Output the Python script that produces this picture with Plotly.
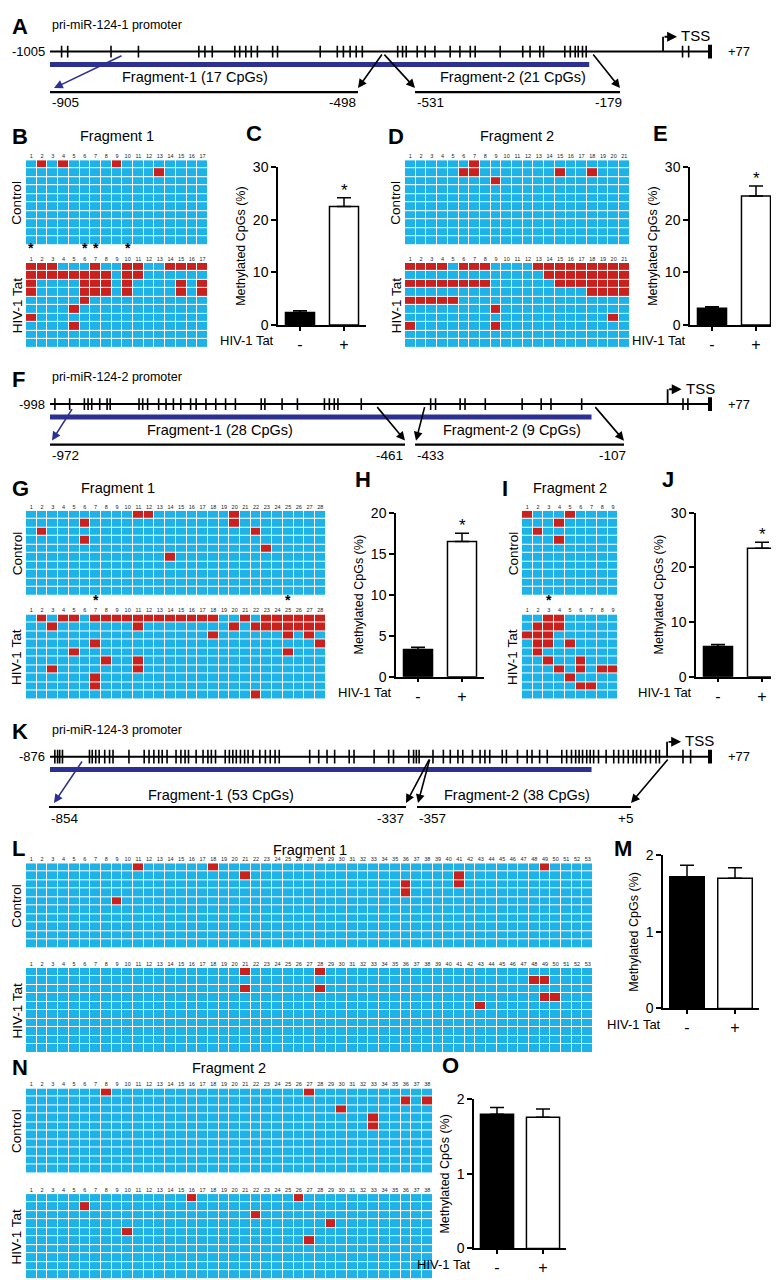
import plotly.graph_objects as go

W, H = 779, 1280
FONT = "Liberation Sans"
BLUE, RED, NAVY = "#1db3e9", "#c9211e", "#2c3090"
CW, CH = 10.7, 8.6

# ---------------- data ----------------
# CpG sites (bp relative to TSS) drawn on each promoter
a_cpg = [-986, -976, -905, -860, -761, -751, -739, -702, -694, -684, -675, -665, -640, -632,
         -562, -534, -524, -513, -503, -493, -435, -427, -421, -403, -390, -374, -349, -333,
         -316, -308, -267, -230, -218, -202, -196, -161, -152, -144, -139, -132, -126, 32, 42]
f_cpg = [-990, -966, -942, -936, -930, -917, -905, -900, -853, -847, -839, -821, -809, -797,
         -785, -769, -760, -744, -728, -712, -696, -654, -648, -620, -595, -551, -543, -535,
         -529, -491, -378, -370, -330, -322, -289, -229, -198, -182, -132, 33, 41]
k_cpg = [-869, -865, -862, -858, -819, -815, -810, -805, -797, -790, -785, -762, -740, -733,
         -726, -719, -714, -707, -694, -687, -681, -676, -665, -655, -648, -643, -637, -623,
         -617, -612, -607, -601, -595, -590, -583, -573, -565, -558, -551, -545, -501, -488,
         -476, -465, -444, -437, -408, -387, -380, -358, -351, -347, -343, -323, -308, -298,
         -287, -280, -266, -255, -248, -241, -223, -217, -201, -187, -180, -169, -158, -137,
         -130, -123, -117, -112, -107, -101, -96, -91, -84, -73, -62, -55, -48, -41, -34, -29,
         -23, -16, -9, -1, 4, 38, 49]

# methylated CpG columns of each sequenced clone (one list per row)
b_control = [[2, 4, 9], [13], [], [], [], [], [], [], [], []]
b_tat = [[1, 2, 3, 7, 10, 11, 14, 15, 16, 17], [1, 2, 3, 4, 5, 6, 7, 8, 10, 11],
         [1, 6, 7, 8, 10, 15, 17], [1, 6, 7, 8, 10, 15, 17], [6], [5], [1], [5], [], []]
b_stars = [1, 6, 7, 10]
d_control = [[7], [6, 7, 15, 18], [9], [], [], [], [], [], [], []]
d_tat = [[1, 2, 3, 4, 6, 7, 8, 13, 14, 15, 16, 17, 18, 19, 20, 21],
         [14, 15, 16, 17, 18, 19, 20, 21],
         [1, 2, 3, 4, 5, 6, 7, 8, 15, 16, 17, 18, 19, 20, 21],
         [18, 19, 20, 21], [1, 2, 3, 4, 5], [9], [20], [1, 9], [], []]
g_control = [[11, 12, 20], [6, 20], [2, 22], [6], [23], [14], [], [], [], []]
g_tat = [[2, 4, 5, 7, 8, 9, 10, 11, 12, 13, 14, 15, 16, 17, 18, 21, 23, 24, 25, 26, 27, 28],
         [3, 11, 20, 22, 23, 24, 25, 26, 27, 28], [18, 25, 27], [7, 28], [5, 25], [8, 11],
         [3, 11], [7], [7], [22]]
g_stars = [7, 25]
i_control = [[1, 5], [4], [2], [4], [], [], [], [], [], []]
i_tat = [[3, 4], [2, 3, 4], [1, 2, 3], [2, 3, 5], [2], [3, 6], [4, 6, 8, 9], [5], [6, 7], []]
i_stars = [3]
l_control = [[11, 18, 49], [21, 41], [36, 41], [36], [9], [], [], [], [], []]
l_tat = [[21, 28], [48, 49], [21, 28], [49, 50], [43], [], [], [], [], []]
n_control = [[8, 27], [36, 38], [30], [33], [33], [], [], [], [], []]
n_tat = [[16, 26], [6], [22], [29], [10], [27], [], [], [], []]

# % methylated CpGs, mean and SEM, control (-) vs HIV-1 Tat (+)
tat_groups = ["-", "+"]
c_mean, c_sem = [2.4, 22.5], [0.3, 1.7]
e_mean, e_sem = [3.2, 24.5], [0.3, 1.9]
h_mean, h_sem = [3.3, 16.5], [0.3, 1.0]
j_mean, j_sem = [5.5, 23.5], [0.4, 1.1]
m_mean, m_sem = [1.72, 1.70], [0.15, 0.14]
o_mean, o_sem = [1.80, 1.76], [0.09, 0.11]

# ---------------- helpers ----------------
fig = go.Figure()
layout = {}
annotations = []
shapes = []
count = [0]


def add_axes(x0, x1, y0, y1, xa, ya):
    count[0] += 1
    s = "" if count[0] == 1 else str(count[0])
    layout["xaxis" + s] = dict(xa, domain=[x0 / W, x1 / W], anchor="y" + s, fixedrange=True)
    layout["yaxis" + s] = dict(ya, domain=[1 - y1 / H, 1 - y0 / H], anchor="x" + s, fixedrange=True)
    return "x" + s, "y" + s


def text(x, y, s, size=13, xanchor="center", yanchor="middle", angle=0, bold=False):
    if bold:
        s = "<b>" + s + "</b>"
    annotations.append(dict(x=x / W, y=1 - y / H, xref="paper", yref="paper", text=s,
                            showarrow=False, xanchor=xanchor, yanchor=yanchor, textangle=angle,
                            font=dict(family=FONT, size=size, color="black")))


def arrow(tx, ty, hx, hy, color="black"):
    annotations.append(dict(x=hx / W, y=1 - hy / H, xref="paper", yref="paper", text="",
                            ax=tx - hx, ay=ty - hy, axref="pixel", ayref="pixel",
                            showarrow=True, arrowhead=2, arrowsize=1.1, arrowwidth=1.6,
                            arrowcolor=color, standoff=0))


def hline(x0, x1, y, width=2.2, color="black"):
    shapes.append(dict(type="line", xref="paper", yref="paper", x0=x0 / W, x1=x1 / W,
                       y0=1 - y / H, y1=1 - y / H, line=dict(color=color, width=width)))


X0, X1 = 42, 702  # promoter line ends in the page


def diagram(letter, title, start, cpgs, blue_end, tss, y_line, frag, names, ends,
            blue_arrow, black_arrows, tick=6, y_frag=(26, 41, 52)):
    bpp = (77 - start) / (X1 - X0)
    xr, yr = add_axes(X0 - 10, X1 + 10, y_line - 22, y_line + 22,
                      dict(range=[start - 10 * bpp, 77 + 10 * bpp], visible=False),
                      dict(range=[-22, 22], visible=False))
    fig.add_trace(go.Scatter(x=[start, 77], y=[0, 0], mode="lines",
                             line=dict(color="black", width=2), xaxis=xr, yaxis=yr, hoverinfo="skip"))
    xs, ys = [], []
    for p in cpgs:
        xs += [p, p, None]
        ys += [-tick, tick, None]
    fig.add_trace(go.Scatter(x=xs, y=ys, mode="lines", line=dict(color="black", width=1.6),
                             xaxis=xr, yaxis=yr, hoverinfo="skip"))
    fig.add_trace(go.Scatter(x=[77, 77], y=[-7, 7], mode="lines", line=dict(color="black", width=4),
                             xaxis=xr, yaxis=yr, hoverinfo="skip"))
    fig.add_trace(go.Scatter(x=[start, blue_end], y=[-13, -13], mode="lines",
                             line=dict(color=NAVY, width=5), xaxis=xr, yaxis=yr, hoverinfo="skip"))
    fig.add_trace(go.Scatter(x=[tss, tss], y=[0, 15], mode="lines", line=dict(color="black", width=1.8),
                             xaxis=xr, yaxis=yr, hoverinfo="skip"))
    annotations.append(dict(x=tss + 14 * bpp, y=15, xref=xr, yref=yr, ax=tss, ay=15, axref=xr, ayref=yr,
                            text="", showarrow=True, arrowhead=2, arrowsize=1.1, arrowwidth=1.8,
                            arrowcolor="black", standoff=0))
    tss_x = X0 + (tss - start) / bpp
    text(tss_x + 16, y_line - 16, "TSS", 15, "left")
    text(X0 - 3, y_line, str(start), 13, "right")
    text(X1 + 16, y_line, "+77", 13, "left")
    text(2, y_line - 25, letter, 22, "left", bold=True)
    text(42, y_line - 27, title, 12.5, "left")
    yl = y_line + y_frag[0]
    yf = y_line + y_frag[1]
    yp = y_line + y_frag[2]
    hline(frag[0], frag[1], yf)
    hline(frag[2], frag[3], yf)
    text(names[1], yl, names[0], 14.5)
    text(names[3], yl, names[2], 14.5)
    text(frag[0], yp, ends[0], 13.5, "left")
    text(frag[1], yp, ends[1], 13.5, "right")
    text(frag[2], yp, ends[2], 13.5, "left")
    text(frag[3] + 4, yp, ends[3], 13.5, "right")
    arrow(blue_arrow[0], y_line + 4, blue_arrow[1], yf - 4, NAVY)
    for tx, hx in black_arrows:
        arrow(tx, y_line + 2, hx, yf - 4)


def grid(rows, ncol, x0, y0, stars=()):
    nrow = len(rows)
    z = [[1 if c in r else 0 for c in range(1, ncol + 1)] for r in rows]
    cols = list(range(1, ncol + 1))
    xr, yr = add_axes(x0, x0 + ncol * CW, y0, y0 + nrow * CH,
                      dict(range=[0.5, ncol + 0.5], side="top", tickvals=cols,
                           ticktext=[str(c) for c in cols], ticks="", showgrid=False,
                           zeroline=False, showline=False,
                           tickfont=dict(family=FONT, size=5.5, color="#222")),
                      dict(range=[nrow + 0.5, 0.5], visible=False))
    fig.add_trace(go.Heatmap(z=z, x=cols, y=list(range(1, nrow + 1)), zmin=0, zmax=1,
                             colorscale=[[0, BLUE], [1, RED]], showscale=False, xgap=1, ygap=1,
                             xaxis=xr, yaxis=yr, hoverinfo="skip"))
    for c in stars:
        text(x0 + (c - 0.5) * CW, y0 - 15, "<b>*</b>", 14)


def group_label(x, y0, name):
    text(x, y0 + 5 * CH, name, 13.5, angle=-90)


def bars(mean, sem, x0, x1, y0, y1, ymax, dtick, bw, letter, lx, ly=None):
    xr, yr = add_axes(x0, x1, y0, y1,
                      dict(type="category", range=[-0.5, 1.5], showline=True, linecolor="black",
                           linewidth=1.5, ticks="outside", ticklen=4, tickwidth=1.5,
                           tickcolor="black", showgrid=False, zeroline=False,
                           tickfont=dict(family=FONT, size=16, color="black")),
                      dict(range=[0, ymax], dtick=dtick, showline=True, linecolor="black",
                           linewidth=1.5, ticks="outside", ticklen=5, tickwidth=1.5,
                           tickcolor="black", showgrid=False, zeroline=False,
                           tickfont=dict(family=FONT, size=14, color="black"),
                           title=dict(text="Methylated CpGs (%)", standoff=4,
                                      font=dict(family=FONT, size=12.5, color="black"))))
    fig.add_trace(go.Bar(x=tat_groups, y=mean, width=bw,
                         marker=dict(color=["black", "white"], line=dict(color="black", width=1.5)),
                         error_y=dict(type="data", array=sem, arrayminus=[0, 0], symmetric=False,
                                      color="black", thickness=1.5, width=7),
                         xaxis=xr, yaxis=yr, hoverinfo="skip"))
    if mean[1] > 3 * mean[0]:
        annotations.append(dict(x=1, y=mean[1] + sem[1], xref=xr, yref=yr, text="*",
                                showarrow=False, yanchor="bottom", yshift=-4,
                                font=dict(family=FONT, size=17, color="black")))
    first = x0 + (x1 - x0) / 4
    text(first - 24, y1 + 16, "HIV-1 Tat", 13, "right")
    text(lx, y0 - 34 if ly is None else ly, letter, 22, "left", bold=True)


# ---------------- panel A / F / K: promoter maps ----------------
diagram("A", "pri-miR-124-1 promoter", -1005, a_cpg, -121, 0, 36,
        [42, 350, 407, 612], ["Fragment-1 (17 CpGs)", 187, "Fragment-2 (21 CpGs)", 505],
        ["-905", "-498", "-531", "-179"], (115, 46), [(375, 350), (375, 407), (584, 612)])
diagram("F", "pri-miR-124-2 promoter", -998, f_cpg, -116, 8, 393,
        [42, 397, 407, 616], ["Fragment-1 (28 CpGs)", 212, "Fragment-2 (9 CpGs)", 504],
        ["-972", "-461", "-433", "-107"], (65, 44), [(368, 397), (417, 408), (586, 616)])
diagram("K", "pri-miR-124-3 promoter", -876, k_cpg, -94, 15, 750,
        [41, 398, 409, 623], ["Fragment-1 (53 CpGs)", 213, "Fragment-2 (38 CpGs)", 509],
        ["-854", "-337", "-357", "+5"], (75, 46), [(422, 398), (422, 410), (661, 623)],
        tick=7, y_frag=(39, 51, 63))

# ---------------- methylation grids ----------------
grid(b_control, 17, 18, 146)
grid(b_tat, 17, 18, 250, b_stars)
text(2, 122, "B", 22, "left", bold=True)
text(18 + 17 * CW / 2, 122, "Fragment 1", 14.5)
group_label(9, 146, "Control")
group_label(9, 250, "HIV-1 Tat")

grid(d_control, 21, 397, 146)
grid(d_tat, 21, 397, 250)
text(378, 122, "D", 22, "left", bold=True)
text(397 + 21 * CW / 2, 122, "Fragment 2", 14.5)
group_label(388, 146, "Control")
group_label(388, 250, "HIV-1 Tat")

grid(g_control, 28, 18, 501)
grid(g_tat, 28, 18, 606, g_stars)
text(2, 478, "G", 22, "left", bold=True)
text(110, 478, "Fragment 1", 14.5)
group_label(9, 501, "Control")
group_label(9, 606, "HIV-1 Tat")

grid(i_control, 9, 514, 501)
grid(i_tat, 9, 514, 606, i_stars)
text(492, 478, "I", 22, "left", bold=True)
text(514 + 9 * CW / 2, 478, "Fragment 2", 14.5)
group_label(505, 501, "Control")
group_label(505, 606, "HIV-1 Tat")

grid(l_control, 53, 18, 858)
grid(l_tat, 53, 18, 964)
text(2, 843, "L", 22, "left", bold=True)
text(18 + 53 * CW / 2, 845, "Fragment 1", 14.5)
group_label(9, 858, "Control")
group_label(9, 964, "HIV-1 Tat")

grid(n_control, 38, 18, 1086)
grid(n_tat, 38, 18, 1193)
text(2, 1065, "N", 22, "left", bold=True)
text(18 + 38 * CW / 2, 1065, "Fragment 2", 14.5)
group_label(9, 1086, "Control")
group_label(9, 1193, "HIV-1 Tat")

# ---------------- bar charts ----------------
bars(c_mean, c_sem, 270, 358, 153, 313, 30, 10, 0.66, "C", 236)
bars(e_mean, e_sem, 682, 770, 153, 313, 30, 10, 0.66, "E", 643)
bars(h_mean, h_sem, 388, 476, 503, 669, 20, 5, 0.66, "H", 345)
bars(j_mean, j_sem, 688, 776, 503, 669, 30, 10, 0.66, "J", 652)
bars(m_mean, m_sem, 655, 751, 850, 1005, 2, 1, 0.72, "M", 604, 843)
bars(o_mean, o_sem, 466, 558, 1097, 1248, 2, 1, 0.72, "O", 432)

fig.update_layout(width=W, height=H, margin=dict(l=0, r=0, t=0, b=0),
                  paper_bgcolor="white", plot_bgcolor="white", showlegend=False,
                  font=dict(family=FONT, color="black"),
                  annotations=annotations, shapes=shapes, **layout)
fig.write_html("out.html")
